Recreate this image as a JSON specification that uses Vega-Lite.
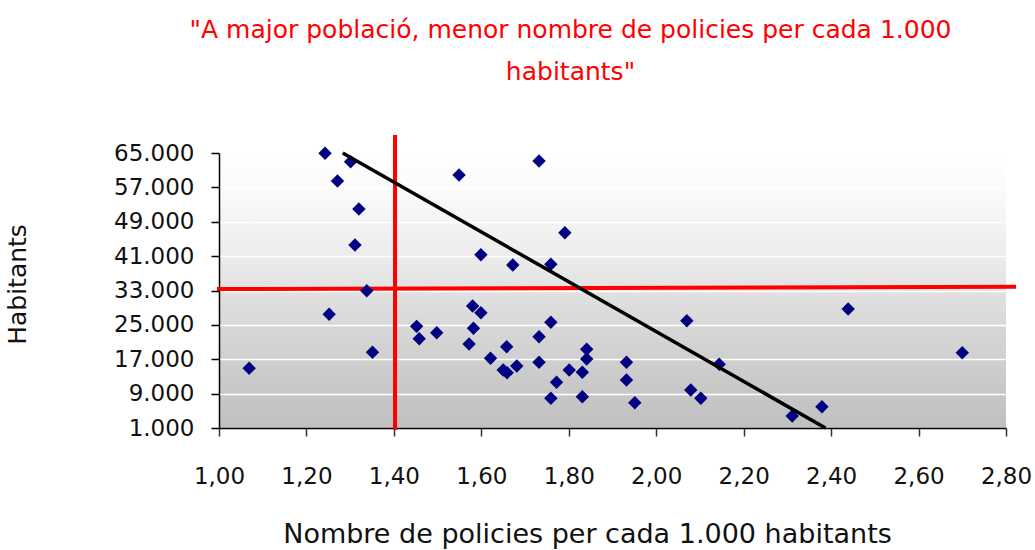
{
  "$schema": "https://vega.github.io/schema/vega-lite/v6.json",
  "autosize": "none",
  "width": 787,
  "height": 275,
  "padding": {"left": 219, "top": 153, "right": 29, "bottom": 122},
  "background": "#ffffff",
  "view": {
    "stroke": null,
    "fill": {"gradient": "linear", "x1": 0, "y1": 0, "x2": 0, "y2": 1,
      "stops": [
        {"offset": 0, "color": "#ffffff"},
        {"offset": 0.125, "color": "#fbfbfb"},
        {"offset": 0.25, "color": "#f4f4f4"},
        {"offset": 0.375, "color": "#ececec"},
        {"offset": 0.5, "color": "#e1e1e1"},
        {"offset": 0.625, "color": "#d8d8d8"},
        {"offset": 0.75, "color": "#cfcfcf"},
        {"offset": 0.875, "color": "#c7c7c7"},
        {"offset": 1, "color": "#c0c0c0"}
      ]}
  },
  "config": {
    "locale": {"number": {"decimal": ",", "thousands": ".", "grouping": [3], "currency": ["", " €"]}},
    "font": "DejaVu Sans"
  },
  "title": {
    "text": ["\"A major població, menor nombre de policies per cada 1.000", "habitants\""],
    "color": "#ff0000",
    "font": "DejaVu Sans",
    "fontSize": 25,
    "fontWeight": "normal",
    "lineHeight": 42,
    "anchor": "middle",
    "frame": "group",
    "baseline": "bottom",
    "offset": 23,
    "dx": -42
  },
  "datasets": {
    "points": [
      {"policies": 1.069, "habitants": 14890},
      {"policies": 1.2425, "habitants": 64930},
      {"policies": 1.252, "habitants": 27460},
      {"policies": 1.271, "habitants": 58480},
      {"policies": 1.301, "habitants": 62970},
      {"policies": 1.311, "habitants": 43590},
      {"policies": 1.320, "habitants": 51970},
      {"policies": 1.338, "habitants": 32950},
      {"policies": 1.351, "habitants": 18620},
      {"policies": 1.452, "habitants": 24660},
      {"policies": 1.458, "habitants": 21790},
      {"policies": 1.498, "habitants": 23180},
      {"policies": 1.549, "habitants": 59880},
      {"policies": 1.572, "habitants": 20550},
      {"policies": 1.580, "habitants": 29390},
      {"policies": 1.582, "habitants": 24200},
      {"policies": 1.599, "habitants": 27830},
      {"policies": 1.599, "habitants": 41330},
      {"policies": 1.621, "habitants": 17220},
      {"policies": 1.650, "habitants": 14500},
      {"policies": 1.658, "habitants": 19920},
      {"policies": 1.659, "habitants": 13870},
      {"policies": 1.672, "habitants": 38930},
      {"policies": 1.681, "habitants": 15430},
      {"policies": 1.732, "habitants": 63140},
      {"policies": 1.732, "habitants": 22250},
      {"policies": 1.732, "habitants": 16290},
      {"policies": 1.759, "habitants": 39090},
      {"policies": 1.759, "habitants": 25600},
      {"policies": 1.759, "habitants": 7910},
      {"policies": 1.772, "habitants": 11640},
      {"policies": 1.791, "habitants": 46450},
      {"policies": 1.801, "habitants": 14500},
      {"policies": 1.831, "habitants": 13960},
      {"policies": 1.831, "habitants": 8290},
      {"policies": 1.841, "habitants": 19320},
      {"policies": 1.841, "habitants": 17060},
      {"policies": 1.932, "habitants": 16290},
      {"policies": 1.932, "habitants": 12170},
      {"policies": 1.951, "habitants": 6890},
      {"policies": 2.070, "habitants": 25970},
      {"policies": 2.079, "habitants": 9840},
      {"policies": 2.102, "habitants": 7910},
      {"policies": 2.144, "habitants": 15820},
      {"policies": 2.311, "habitants": 3790},
      {"policies": 2.379, "habitants": 5960},
      {"policies": 2.439, "habitants": 28690},
      {"policies": 2.700, "habitants": 18520}
    ],
    "trend": [
      {"policies": 1.283, "habitants": 65000},
      {"policies": 2.387, "habitants": 1000}
    ],
    "hline": [
      {"policies": 0.9954, "habitants": 33350},
      {"policies": 2.823, "habitants": 33880}
    ],
    "vline": [
      {"policies": 1.4026, "top": 69190, "bottom": 535}
    ]
  },
  "encoding": {
    "x": {
      "field": "policies", "type": "quantitative",
      "scale": {"domain": [1, 2.8], "nice": false, "zero": false},
      "axis": {
        "values": [1, 1.2, 1.4, 1.6, 1.8, 2, 2.2, 2.4, 2.6, 2.8],
        "format": ".2f",
        "grid": false,
        "domainColor": "#000000", "domainWidth": 1.5,
        "tickColor": "#333333", "tickSize": 8, "tickWidth": 1.5,
        "labelFont": "DejaVu Sans", "labelFontSize": 23, "labelColor": "#111111",
        "labelPadding": 29, "labelFlush": false, "labelOverlap": false,
        "title": "Nombre de policies per cada 1.000 habitants",
        "titleFont": "DejaVu Sans", "titleFontSize": 27, "titleFontWeight": "normal",
        "titleColor": "#111111",
        "titleX": 368, "titleY": 114, "titleAlign": "center", "titleBaseline": "alphabetic"
      }
    },
    "y": {
      "field": "habitants", "type": "quantitative",
      "scale": {"domain": [1000, 65000], "nice": false, "zero": false},
      "axis": {
        "values": [1000, 9000, 17000, 25000, 33000, 41000, 49000, 57000, 65000],
        "format": ",d",
        "grid": true, "gridColor": "#ffffff", "gridWidth": 1.5, "gridOpacity": 1,
        "domainColor": "#000000", "domainWidth": 1.5,
        "tickColor": "#000000", "tickSize": 8, "tickWidth": 1.5,
        "labelFont": "DejaVu Sans", "labelFontSize": 23, "labelColor": "#111111",
        "labelPadding": 17, "labelFlush": false, "labelOverlap": false,
        "title": "Habitants",
        "titleFont": "DejaVu Sans", "titleFontSize": 25, "titleFontWeight": "normal",
        "titleColor": "#111111",
        "titleX": -194, "titleY": 131, "titleAngle": 270, "titleAlign": "center", "titleBaseline": "alphabetic"
      }
    }
  },
  "layer": [
    {
      "data": {"name": "vline"},
      "mark": {"type": "rule", "color": "#ff0000", "strokeWidth": 4},
      "encoding": {
        "y": {"field": "top", "type": "quantitative"},
        "y2": {"field": "bottom"}
      }
    },
    {
      "data": {"name": "hline"},
      "mark": {"type": "line", "color": "#ff0000", "strokeWidth": 4},
      "encoding": {}
    },
    {
      "data": {"name": "points"},
      "mark": {"type": "point", "shape": "diamond", "filled": true, "color": "#000080", "size": 180, "opacity": 1},
      "encoding": {}
    },
    {
      "data": {"name": "trend"},
      "mark": {"type": "line", "color": "#000000", "strokeWidth": 3.5},
      "encoding": {}
    }
  ]
}
